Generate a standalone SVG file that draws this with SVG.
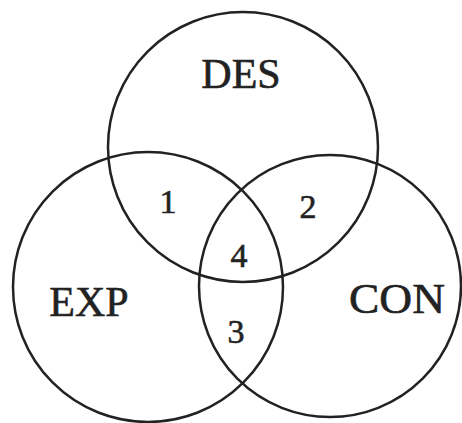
<svg xmlns="http://www.w3.org/2000/svg" width="462" height="423" viewBox="0 0 462 423">
<style>
.c{fill:none;stroke:#222;stroke-width:2.5}
.t{font-family:"Liberation Serif","Times New Roman",serif;fill:#222;stroke:#222;stroke-width:0.6;text-anchor:middle}
.big{font-size:42px}
.num{font-size:34px}
</style>
<rect width="462" height="423" fill="#fff"/>
<g id="des"><circle class="c" cx="243" cy="147" r="135"/><text class="t big" x="241" y="88">DES</text></g>
<g id="exp"><circle class="c" cx="148" cy="287" r="135"/><text class="t big" x="89" y="316">EXP</text></g>
<g id="con"><circle class="c" cx="330" cy="286" r="131"/><text class="t big" x="397" y="313" textLength="96" lengthAdjust="spacingAndGlyphs">CON</text></g>
<g id="r1"><text class="t num" x="168" y="213">1</text></g>
<g id="r2"><text class="t num" x="308" y="218">2</text></g>
<g id="r4"><text class="t num" x="239" y="267">4</text></g>
<g id="r3"><text class="t num" x="236" y="343">3</text></g>
<g id="connectors"/>
</svg>
